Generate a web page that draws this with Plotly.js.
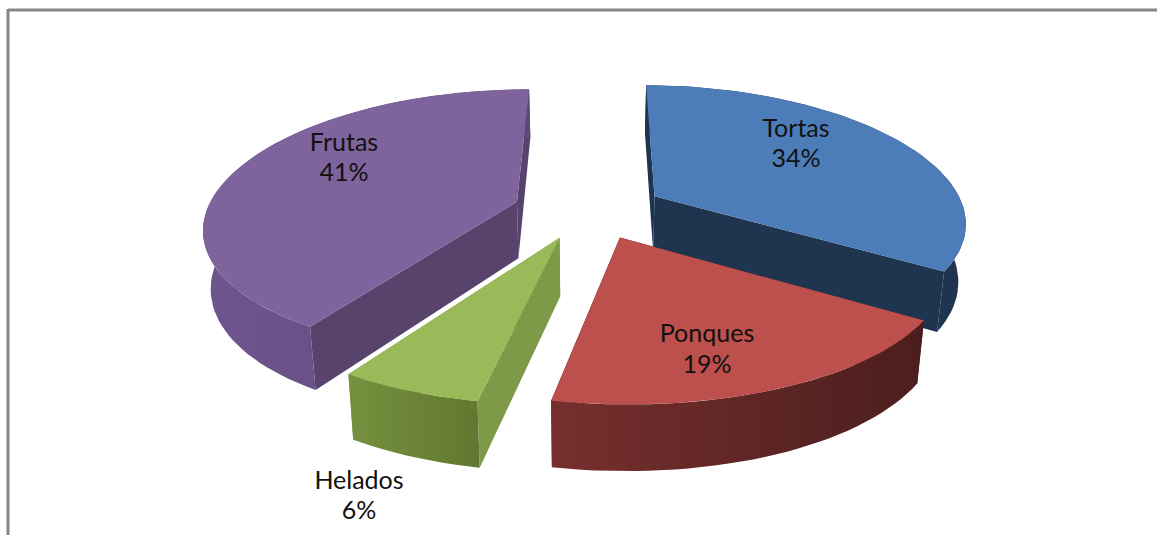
<!DOCTYPE html>
<html>
<head>
<meta charset="utf-8">
<script src="https://cdn.plot.ly/plotly-3.0.1.min.js"></script>
<style>html,body{margin:0;padding:0;background:#fff}#chart{width:1157px;height:535px}</style>
</head>
<body>
<div id="chart"></div>
<script>
// ---- chart data ----
const categories = ["Tortas", "Ponques", "Helados", "Frutas"];
const shares = [34, 19, 6, 41];

// ---- colours per slice ----
const topColors = ["#4d7db8", "#bd4f4c", "#9aba59", "#7f639d"];
const edgeColors = ["#1f344f", "#4e1f1e", "#7e9a48", "#58436c"];
const rimStops = [
  ["#1f344f", "#1f344f"],
  ["#762f2e", "#4b1e1d"],
  ["#75913f", "#62772f"],
  ["#6f558e", "#5f4878"]
];

// ---- 3D view of the pie ----
const view = {cx: 589, cy: 210, rx: 310, ry: 132, perspX: 0.178, perspY: 0.153, explodeX: 0.245, explodeY: 0.22,
              depth: 57, depthTilt: 8, floorShrink: 0.98, rotation: 0.3};
const labelSpots = [[796, 131, 161], [707, 336, 367], [359, 483, 513], [344, 145, 175]];

function project(X, Y, down) {
  const px = view.rx * X / (1 + view.perspX * Y), py = view.ry * Y / (1 + view.perspY * Y);
  if (!down) return [view.cx + px, view.cy - py];
  return [view.cx + px * view.floorShrink, view.cy - py + view.depth - view.depthTilt * Y];
}

const traces = [];
function poly(pts, color, stops) {
  const t = {
    type: "scatter", mode: "lines", fill: "toself", hoverinfo: "skip", showlegend: false,
    x: pts.map(p => p[0]), y: pts.map(p => p[1]),
    line: {width: 0, color: color}, fillcolor: color
  };
  if (stops) t.fillgradient = {type: "horizontal", colorscale: [[0, stops[0]], [1, stops[1]]]};
  traces.push(t);
}

const total = shares.reduce((a, b) => a + b, 0);
const toRad = Math.PI / 180;
let acc = 0;
const slices = shares.map((v, i) => {
  const a0 = acc / total * 360 + view.rotation;
  acc += v;
  return {i, a0, a1: acc / total * 360 + view.rotation};
});

// far slices first, so that near ones overlap them
[0, 3, 2, 1].forEach(idx => {
  const s = slices[idx];
  const mid = (s.a0 + s.a1) / 2 * toRad;
  const ox = view.explodeX * Math.sin(mid), oy = view.explodeY * Math.cos(mid);
  const arc = [];
  for (let a = s.a0; ; a += 2) {
    const t = Math.min(a, s.a1) * toRad;
    arc.push([ox + Math.sin(t), oy + Math.cos(t)]);
    if (a >= s.a1) break;
  }
  const apex = [ox, oy];
  const quad = (A, B) => [project(A[0], A[1]), project(B[0], B[1]), project(B[0], B[1], true), project(A[0], A[1], true)];
  const first = arc[0], last = arc[arc.length - 1];
  poly(quad(apex, first), edgeColors[s.i]);
  poly(quad(apex, last), edgeColors[s.i]);
  const rimTop = arc.map(p => project(p[0], p[1]));
  const rimLow = arc.map(p => project(p[0], p[1], true)).reverse();
  poly(rimTop.concat(rimLow), rimStops[s.i][0], rimStops[s.i]);
  poly([project(apex[0], apex[1])].concat(rimTop), topColors[s.i]);
});

const labelFont = {family: "Lato, 'Open Sans', sans-serif", size: 25, color: "#111"};
traces.push({
  type: "scatter", mode: "text", hoverinfo: "skip", showlegend: false, cliponaxis: false,
  x: labelSpots.map(l => l[0]), y: labelSpots.map(l => l[1]),
  text: categories, textposition: "middle center", textfont: labelFont
});
traces.push({
  type: "scatter", mode: "text", hoverinfo: "skip", showlegend: false, cliponaxis: false,
  x: labelSpots.map(l => l[0]), y: labelSpots.map(l => l[2]),
  text: shares.map(v => v + "%"), textposition: "middle center", textfont: labelFont
});

const frame = {color: "#868686", width: 3};
const layout = {
  width: 1157, height: 535, margin: {l: 0, r: 0, t: 0, b: 0},
  paper_bgcolor: "#fff", plot_bgcolor: "#fff", showlegend: false,
  xaxis: {range: [0, 1157], visible: false, fixedrange: true},
  yaxis: {range: [535, 0], visible: false, fixedrange: true},
  shapes: [
    {type: "line", xref: "x", yref: "y", x0: 8, x1: 1157, y0: 10, y1: 10, line: frame},
    {type: "line", xref: "x", yref: "y", x0: 8, x1: 8, y0: 9, y1: 535, line: frame}
  ]
};
Plotly.newPlot("chart", traces, layout, {displayModeBar: false, staticPlot: true});
</script>
</body>
</html>
